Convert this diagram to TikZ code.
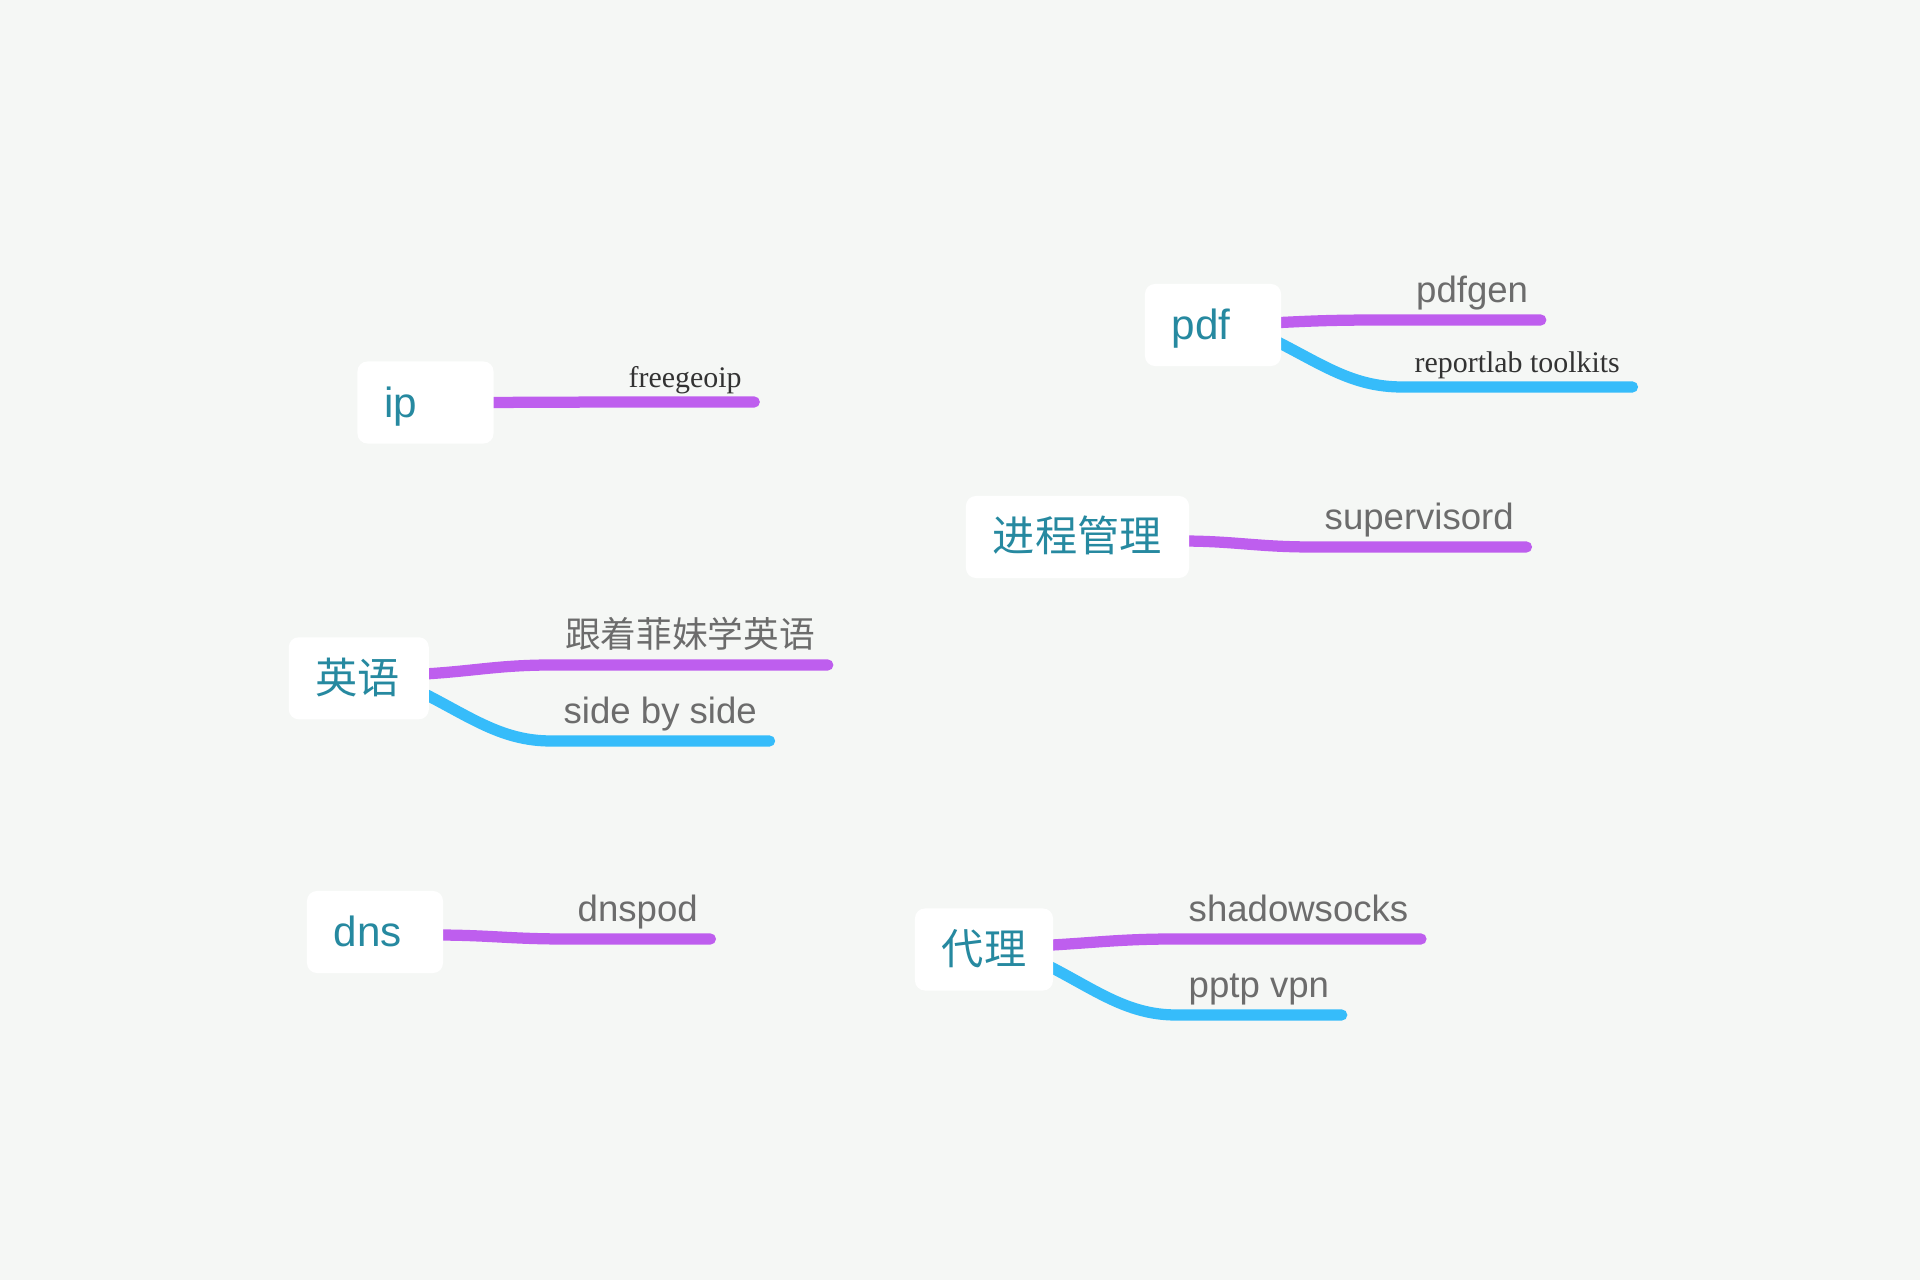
\documentclass[tikz,border=0pt]{standalone}
\usepackage{fontspec}
\setmainfont{Liberation Sans}
\newfontfamily\cjk{Noto Sans CJK SC}
\newfontfamily\timesfont{Liberation Serif}
\usepackage{tikz}
\usetikzlibrary{calc,positioning}
\definecolor{pagebg}{RGB}{245,247,245}
\definecolor{topicteal}{RGB}{38,137,160}
\definecolor{leafgray}{RGB}{108,108,108}
\definecolor{serifgray}{RGB}{51,51,51}
\definecolor{mmpurple}{RGB}{190,94,238}
\definecolor{mmblue}{RGB}{54,188,250}
\pgfdeclarelayer{back}
\pgfdeclarelayer{wires}
\pgfsetlayers{back,wires,main}
\tikzset{
  topic/.style={fill=white,rounded corners=0.1cm,inner xsep=0.27cm,inner ysep=0.01cm,
    text height=0.55cm,text depth=0.25cm,align=left,text=topicteal,
    font=\fontsize{12}{14}\selectfont},
  cjktopic/.style={topic,font=\cjk\fontsize{12}{14}\selectfont},
  leaf/.style={anchor=south west,inner xsep=0.12cm,inner ysep=0pt,text depth=0.17cm,
    text=leafgray,font=\fontsize{10.4}{12}\selectfont},
  cjkleaf/.style={leaf,font=\cjk\fontsize{10.15}{12}\selectfont},
  serifleaf/.style={leaf,text depth=0.14cm,text=serifgray,font=\timesfont\fontsize{8.5}{10}\selectfont},
  purplebranch/.style={draw=mmpurple,line width=3.2pt,line cap=round},
  bluebranch/.style={draw=mmblue,line width=3.2pt,line cap=round}
}

\begin{document}
\begin{tikzpicture}[x=0.01cm,y=-0.01cm]
  % Page
  \begin{pgfonlayer}{back}
    \fill[pagebg] (0,0) rectangle (1920,1280);
  \end{pgfonlayer}
  \useasboundingbox (0,0) rectangle (1920,1280);

  % Topics
  \node[topic,text width=0.82cm] (ip) at (425.5,402.5) {ip};
  \node[topic,text width=0.82cm] (pdf) at (1213,325) {pdf};
  \node[cjktopic,text width=1.69cm] (proc) at (1077.5,537) {进程管理};
  \node[cjktopic,text width=0.86cm] (english) at (358.8,678.3) {英语};
  \node[topic,text width=0.82cm] (dns) at (375,932) {dns};
  \node[cjktopic,text width=0.84cm] (proxy) at (984,949.5) {代理};

  % Subtopics
  \node[serifleaf] (freegeoip) at (616,402) {freegeoip};
  \node[leaf] (pdfgen) at (1403.5,320) {pdfgen};
  \node[serifleaf] (reportlab) at (1402,387) {reportlab toolkits};
  \node[leaf] (supervisord) at (1312,547) {supervisord};
  \node[cjkleaf] (feimei) at (552.5,665) {跟着菲妹学英语};
  \node[leaf] (sidebyside) at (551,741) {side by side};
  \node[leaf] (dnspod) at (565,939) {dnspod};
  \node[leaf] (shadowsocks) at (1176,939) {shadowsocks};
  \node[leaf] (pptp) at (1176,1015) {pptp vpn};

  % Branches (under the topic boxes)
  \begin{pgfonlayer}{wires}
    \draw[purplebranch] ($(ip.east)+(-10,0)$) -- (freegeoip.south west) -- (freegeoip.south east);
    \draw[purplebranch] ($(pdf.east)+(-10,-2)$) .. controls +(55,-3) and +(-55,0) .. (pdfgen.south west) -- (pdfgen.south east);
    \draw[bluebranch] ($(pdf.east)+(-10,14)$) .. controls +(50,25) and +(-50,0) .. (reportlab.south west) -- (reportlab.south east);
    \draw[purplebranch] ($(proc.east)+(-10,4)$) .. controls +(55,0) and +(-55,0) .. (supervisord.south west) -- (supervisord.south east);
    \draw[purplebranch] ($(english.east)+(-10,-4)$) .. controls +(55,-3) and +(-55,0) .. (feimei.south west) -- (feimei.south east);
    \draw[bluebranch] ($(english.east)+(-10,13)$) .. controls +(50,25) and +(-50,0) .. (sidebyside.south west) -- (sidebyside.south east);
    \draw[purplebranch] ($(dns.east)+(-10,3)$) .. controls +(55,0) and +(-55,0) .. (dnspod.south west) -- (dnspod.south east);
    \draw[purplebranch] ($(proxy.east)+(-10,-4)$) .. controls +(55,-3) and +(-55,0) .. (shadowsocks.south west) -- (shadowsocks.south east);
    \draw[bluebranch] ($(proxy.east)+(-10,14)$) .. controls +(50,25) and +(-50,0) .. (pptp.south west) -- (pptp.south east);
  \end{pgfonlayer}
\end{tikzpicture}
\end{document}
